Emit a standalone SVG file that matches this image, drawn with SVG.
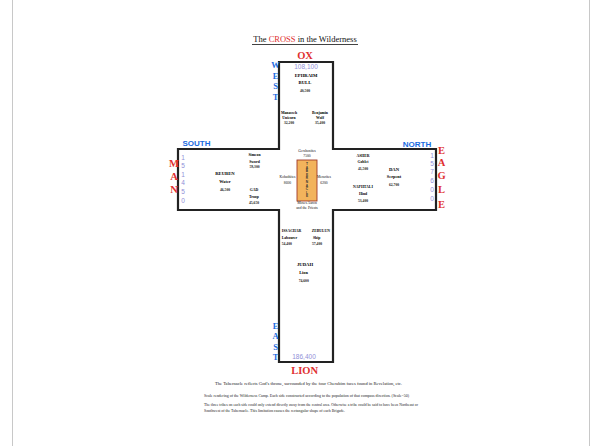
<svg xmlns="http://www.w3.org/2000/svg" width="600" height="446" viewBox="0 0 600 446">
<style>
.sf{font-family:"Liberation Serif","Times New Roman",serif}
.c{text-anchor:middle}
.tn{font-family:"Liberation Serif",serif;font-weight:bold;font-size:4.7px;fill:#000}
.em{font-family:"Liberation Serif",serif;font-weight:bold;font-size:4.3px;fill:#000}
.nm{font-family:"Liberation Serif",serif;font-weight:bold;font-size:3.7px;fill:#222}
.sm{font-family:"Liberation Serif",serif;font-weight:bold;font-size:3.8px;fill:#000}
.face{font-family:"Liberation Serif",serif;font-weight:bold;font-size:10.5px;fill:#e03030;text-anchor:middle}
.dir{font-family:"Liberation Serif",serif;font-weight:bold;font-size:8.5px;fill:#1a6be0;text-anchor:middle}
.dirs{font-family:"Liberation Sans",Arial,sans-serif;font-weight:bold;font-size:8px;fill:#1a6be0;text-anchor:middle}
.pop{font-family:"Liberation Sans",Arial,sans-serif;font-size:6.5px;fill:#9090d8;text-anchor:middle}
.lev{font-family:"Liberation Serif",serif;font-size:3.7px;fill:#111;text-anchor:middle}
.note{font-family:"Liberation Serif",serif;font-size:4.5px;fill:#222}
</style>
<rect width="600" height="446" fill="#fff"/>
<line x1="12.5" y1="0" x2="12.5" y2="446" stroke="#c8c8c8" stroke-width="1"/>
<line x1="589.5" y1="0" x2="589.5" y2="446" stroke="#c8c8c8" stroke-width="1"/>

<g id="title">
<text class="sf c" x="305" y="42" font-size="8.5" fill="#111">The <tspan fill="#e03030">CROSS</tspan> in the Wilderness</text>
<line x1="252" y1="44.5" x2="358" y2="44.5" stroke="#111" stroke-width="0.8"/>
</g>

<g id="connectors">
<path d="M279,62 H333 V149 H436 V210 H333 V362 H279 V210 H178 V149 H279 Z" fill="none" stroke="#222" stroke-width="2.2"/>
</g>

<g id="west">
<text class="face" x="305" y="59">OX</text>
<text class="pop" x="306" y="68.5">108,100</text>
<text class="dir" x="275.5" y="68.3">W</text>
<text class="dir" x="275.5" y="79.3">E</text>
<text class="dir" x="275.5" y="89.3">S</text>
<text class="dir" x="275.5" y="100">T</text>
<g id="ephraim">
<text class="tn c" x="306" y="76.5">EPHRAIM</text>
<text class="tn c" x="305" y="84">BULL</text>
<text class="nm c" x="305" y="92">40,500</text>
</g>
<g id="manasseh">
<text class="sm c" x="289" y="113.5">Manasseh</text>
<text class="sm c" x="289" y="118.8">Unicorn</text>
<text class="nm c" x="289" y="124.3">32,200</text>
</g>
<g id="benjamin">
<text class="sm c" x="320" y="113.5">Benjamin</text>
<text class="sm c" x="320" y="118.8">Wolf</text>
<text class="nm c" x="320" y="124.3">35,400</text>
</g>
</g>

<g id="south">
<text class="dirs" x="196.5" y="146">SOUTH</text>
<text class="face" x="174" y="167">M</text>
<text class="face" x="174" y="179.5">A</text>
<text class="face" x="174" y="192.5">N</text>
<text class="pop" x="183" y="159.5">1</text>
<text class="pop" x="183" y="168">5</text>
<text class="pop" x="183" y="176.5">1</text>
<text class="pop" x="183" y="185">4</text>
<text class="pop" x="183" y="194">5</text>
<text class="pop" x="183" y="203">0</text>
<g id="simeon">
<text class="sm c" x="254.5" y="156">Simeon</text>
<text class="sm c" x="254.5" y="162.7">Sword</text>
<text class="nm c" x="254.5" y="168.3">59,300</text>
</g>
<g id="reuben">
<text class="tn c" x="225" y="175">REUBEN</text>
<text class="em c" x="225" y="183.3">Water</text>
<text class="nm c" x="225" y="190.5">46,500</text>
</g>
<g id="gad">
<text class="sm c" x="254" y="191">GAD</text>
<text class="sm c" x="254" y="198">Troop</text>
<text class="nm c" x="254" y="204">45,650</text>
</g>
</g>

<g id="north">
<text class="dirs" x="417" y="147">NORTH</text>
<text class="face" x="441.5" y="153.5">E</text>
<text class="face" x="441.5" y="165.5">A</text>
<text class="face" x="441.5" y="178.5">G</text>
<text class="face" x="441.5" y="192.5">L</text>
<text class="face" x="441.5" y="207.5">E</text>
<text class="pop" x="432" y="157.5">1</text>
<text class="pop" x="432" y="166">5</text>
<text class="pop" x="432" y="174">7</text>
<text class="pop" x="432" y="182.5">6</text>
<text class="pop" x="432" y="191.5">0</text>
<text class="pop" x="432" y="200.5">0</text>
<g id="asher">
<text class="sm c" x="363" y="156.7">ASHER</text>
<text class="sm c" x="363" y="163.3">Goblet</text>
<text class="nm c" x="363" y="170">41,500</text>
</g>
<g id="dan">
<text class="tn c" x="394" y="170.7">DAN</text>
<text class="em c" x="394" y="178.3">Serpent</text>
<text class="nm c" x="394" y="186">62,700</text>
</g>
<g id="naphtali">
<text class="sm c" x="363" y="188.3">NAPHTALI</text>
<text class="sm c" x="363" y="195">Hind</text>
<text class="nm c" x="363" y="201.7">53,400</text>
</g>
</g>

<g id="tabernacle">
<rect x="297" y="160" width="20" height="41" fill="#f2b35c" stroke="#a03a28" stroke-width="0.9"/>
<g font-family="Liberation Sans, Arial, sans-serif" font-size="3.2" font-weight="bold" fill="#333" text-anchor="middle">
<text x="307" y="165">T</text>
<text x="307" y="168.6">A</text>
<text x="307" y="172.2">B</text>
<text x="307" y="175.8">E</text>
<text x="307" y="179.4">R</text>
<text x="307" y="183">N</text>
<text x="307" y="186.6">A</text>
<text x="307" y="190.2">C</text>
<text x="307" y="193.8">L</text>
<text x="307" y="197.4">E</text>
</g>
<text class="lev" x="307" y="151.5">Gershonites</text>
<text class="lev" x="307" y="157">7500</text>
<text class="lev" x="287.5" y="178">Kohathites</text>
<text class="lev" x="287.5" y="184">8600</text>
<text class="lev" x="324" y="178">Merarites</text>
<text class="lev" x="324" y="184">6200</text>
<text class="lev" x="307" y="203.8">Moses Aaron</text>
<text class="lev" x="307" y="209.3">and the Priests</text>
</g>

<g id="east">
<g id="issachar">
<text class="sm" x="281.7" y="232.3">ISSACHAR</text>
<text class="sm" x="281.7" y="239">Labourer</text>
<text class="nm" x="281.7" y="245">54,400</text>
</g>
<g id="zebulun">
<text class="sm" x="311.7" y="232.3">ZEBULUN</text>
<text class="sm" x="313" y="239">Ship</text>
<text class="nm" x="312" y="245">57,400</text>
</g>
<g id="judah">
<text class="tn c" x="305" y="265.7">JUDAH</text>
<text class="em c" x="303.5" y="274.3">Lion</text>
<text class="nm c" x="303.7" y="282.3">74,600</text>
</g>
<text class="dir" x="275.5" y="328.5">E</text>
<text class="dir" x="275.5" y="339">A</text>
<text class="dir" x="275.5" y="349.5">S</text>
<text class="dir" x="275.5" y="360">T</text>
<text class="pop" x="304" y="359">186,400</text>
<text class="face" x="304.7" y="374">LION</text>
</g>

<g id="notes">
<text class="note" x="215" y="385" textLength="187" lengthAdjust="spacingAndGlyphs">The Tabernacle reflects God's throne, surrounded by the four Cherubim faces found in Revelation, etc.</text>
<text class="note" x="204" y="397" textLength="205" lengthAdjust="spacingAndGlyphs">Scale rendering of the Wilderness Camp. Each side constructed according to the population of that compass direction. (Scale=50)</text>
<text class="note" x="204" y="406" textLength="214" lengthAdjust="spacingAndGlyphs">The three tribes on each side could only extend directly away from the central area.  Otherwise a tribe could be said to have been Northeast or</text>
<text class="note" x="204" y="411.5" textLength="141" lengthAdjust="spacingAndGlyphs">Southwest of the Tabernacle.  This limitation causes the rectangular shape of each Brigade.</text>
</g>
</svg>
